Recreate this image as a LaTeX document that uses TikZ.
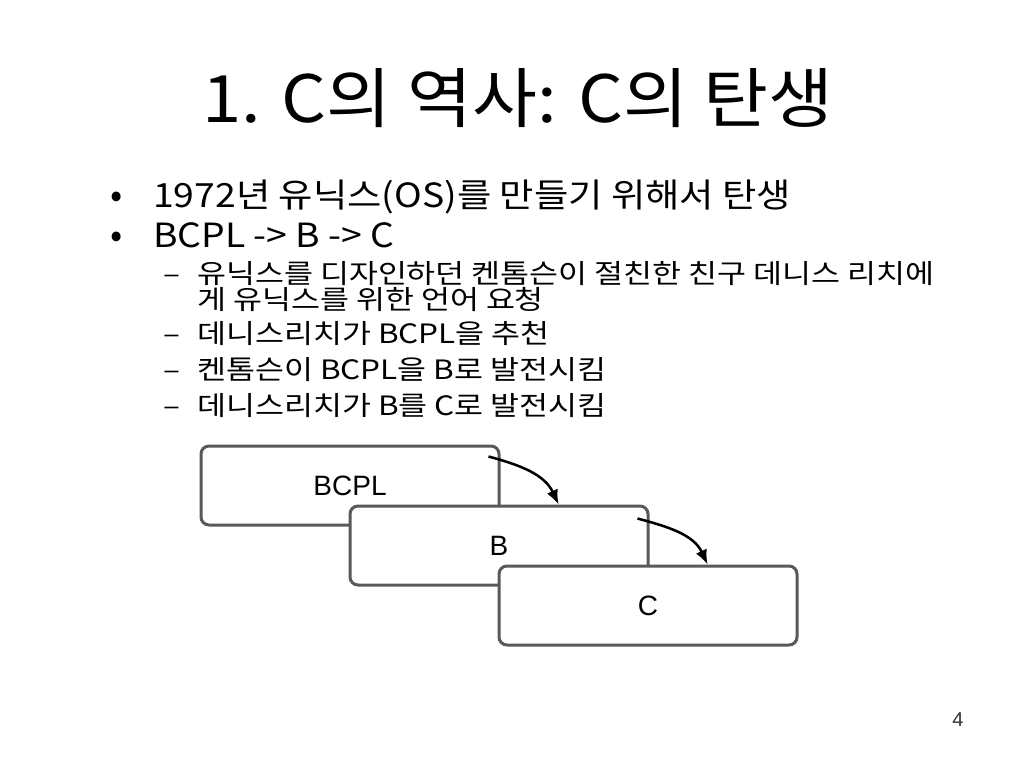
\documentclass[tikz,border=0pt]{standalone}
\usepackage{fontspec}
\setmainfont{Noto Sans CJK KR}
\newfontfamily\arialf{Liberation Sans}
\usetikzlibrary{calc,arrows.meta}
\begin{document}
\begin{tikzpicture}[x=0.75pt,y=-0.75pt,
  titlestyle/.style={anchor=base,inner sep=0,font=\fontsize{49}{49}\selectfont\addfontfeature{FakeStretch=1.08}},
  lvlone/.style={anchor=base west,inner sep=0,font=\fontsize{25}{25}\selectfont\addfontfeature{FakeStretch=1.12}},
  lvltwo/.style={anchor=base west,inner sep=0,font=\fontsize{20}{20}\selectfont\addfontfeature{FakeStretch=1.18}},
  bul/.style={anchor=base,inner sep=0,font=\fontsize{27}{27}\selectfont},
  dashmark/.style={anchor=base,inner sep=0,font=\fontsize{20}{20}\selectfont\addfontfeature{FakeStretch=1.18}},
  langbox/.style={draw=black!65,line width=2.25pt,fill=white,rounded corners=6pt,
    minimum width=223.5pt,minimum height=59.25pt,inner sep=0,
    font=\arialf\fontsize{21}{21}\selectfont},
  flow/.style={draw=black,line width=1.9pt,-{Latex[length=11pt,width=9pt]}},
  pagenum/.style={anchor=base,inner sep=0,font=\arialf\fontsize{15}{15}\selectfont,text=black!80}]
\useasboundingbox[fill=white] (0,0) rectangle (1024,768);
\node[titlestyle] (title) at (518,122) {1. C의 역사: C의 탄생};
\node[bul] (b1) at (117,207) {•};
\node[lvlone] (l1) at (153,207) {1972년 유닉스(OS)를 만들기 위해서 탄생};
\node[bul] (b2) at (117,247) {•};
\node[lvlone] (l2) at (153,247) {BCPL -> B -> C};
\node[dashmark] (d1) at (172,283) {–};
\node[lvltwo] (s1) at (197,283) {유닉스를 디자인하던 켄톰슨이 절친한 친구 데니스 리치에};
\node[lvltwo] (s1b) at (197,309) {게 유닉스를 위한 언어 요청};
\node[dashmark] (d2) at (172,343) {–};
\node[lvltwo] (s2) at (197,343) {데니스리치가 BCPL을 추천};
\node[dashmark] (d3) at (172,379) {–};
\node[lvltwo] (s3) at (197,379) {켄톰슨이 BCPL을 B로 발전시킴};
\node[dashmark] (d4) at (172,415) {–};
\node[lvltwo] (s4) at (197,415) {데니스리치가 B를 C로 발전시킴};
\node[langbox] (BCPL) at (350,485.5) {BCPL};
\node[langbox] (B) at (499,545.5) {B};
\node[langbox] (C) at (648,605.5) {C};
\coordinate (a1s) at ($(BCPL.north east)+(-12,12)$);
\coordinate (a1e) at ($(B.north west)!0.698!(B.north east)$);
\coordinate (a2s) at ($(B.north east)+(-12,14)$);
\coordinate (a2e) at ($(C.north west)!0.698!(C.north east)$);
\draw[flow] (a1s) to[out=-15,in=115] (a1e);
\draw[flow] (a2s) to[out=-15,in=115] (a2e);
\node[pagenum] (pg) at (958,726) {4};
\end{tikzpicture}
\end{document}
